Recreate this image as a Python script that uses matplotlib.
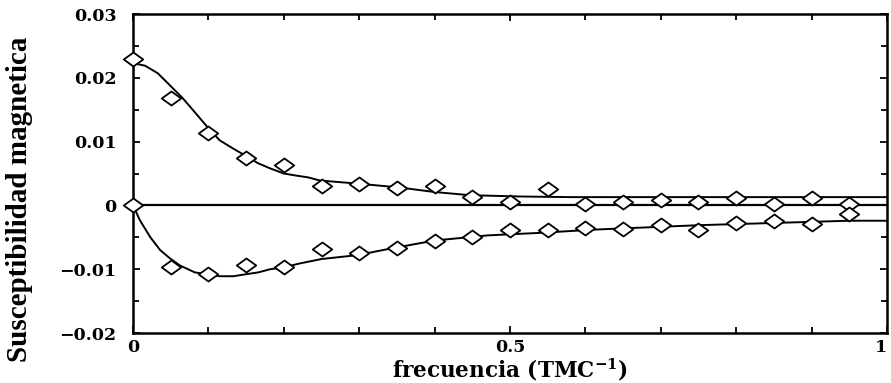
import numpy as np
import matplotlib
matplotlib.use("Agg")
import matplotlib.pyplot as plt
from matplotlib.path import Path
from matplotlib.ticker import MultipleLocator

plt.rcParams["font.family"] = ["DejaVu Serif"]
plt.rcParams["font.weight"] = "bold"
plt.rcParams["mathtext.fontset"] = "dejavuserif"
plt.rcParams["mathtext.default"] = "bf"

# measured points (diamonds)
freq_pts = [0.00, 0.05, 0.10, 0.15, 0.20, 0.25, 0.30, 0.35, 0.40, 0.45,
            0.50, 0.55, 0.60, 0.65, 0.70, 0.75, 0.80, 0.85, 0.90, 0.95]
upper_pts = [0.0230, 0.0169, 0.0113, 0.0074, 0.0064, 0.0031, 0.0034, 0.0028,
             0.0031, 0.0013, 0.0006, 0.0025, 0.0002, 0.0006, 0.0009, 0.0005,
             0.0011, 0.0002, 0.0011, 0.0003]
lower_pts = [0.0000, -0.0096, -0.0108, -0.0094, -0.0097, -0.0069, -0.0074,
             -0.0066, -0.0055, -0.0049, -0.0039, -0.0039, -0.0036, -0.0037,
             -0.0031, -0.0039, -0.0027, -0.0025, -0.0029, -0.0013]

# fitted curves
freq_up = [0.0, 0.016, 0.033, 0.05, 0.066, 0.082, 0.10, 0.115, 0.133, 0.149,
           0.166, 0.182, 0.20, 0.215, 0.232, 0.248, 0.30, 0.354, 0.40, 0.447,
           0.513, 0.58, 0.70, 0.85, 1.0]
upper_fit = [0.0223, 0.0219, 0.0207, 0.0187, 0.0168, 0.0146, 0.0121, 0.0102,
             0.0089, 0.0078, 0.0066, 0.0058, 0.0050, 0.0047, 0.0044, 0.0039,
             0.0034, 0.0028, 0.0021, 0.0016, 0.0014, 0.0013, 0.0013, 0.0013,
             0.0013]

freq_lo = [0.0, 0.009, 0.023, 0.036, 0.049, 0.062, 0.082, 0.10, 0.115, 0.133,
           0.149, 0.166, 0.182, 0.20, 0.221, 0.25, 0.297, 0.34, 0.40, 0.47,
           0.54, 0.61, 0.75, 0.95, 1.0]
lower_fit = [0.0, -0.0023, -0.0050, -0.0070, -0.0083, -0.0094, -0.0105,
             -0.0108, -0.0111, -0.0111, -0.0108, -0.0105, -0.0100, -0.0097,
             -0.0091, -0.0084, -0.0078, -0.0068, -0.0055, -0.0047, -0.0043,
             -0.0038, -0.0031, -0.0024, -0.0024]

# flattened diamond marker
diamond = Path([(-1, 0), (0, 0.72), (1, 0), (0, -0.72), (-1, 0)],
               [Path.MOVETO, Path.LINETO, Path.LINETO, Path.LINETO, Path.CLOSEPOLY])

fig = plt.figure(figsize=(8.91, 3.83), dpi=100)
ax = fig.add_axes([0.1493, 0.1305, 0.8462, 0.8329])

ax.axhline(0, color="black", lw=1.6)
ax.plot(freq_up, upper_fit, color="black", lw=1.4)
ax.plot(freq_lo, lower_fit, color="black", lw=1.4)
for ys in (upper_pts, lower_pts):
    ax.plot(freq_pts, ys, linestyle="none", marker=diamond, markersize=14,
            markerfacecolor="white", markeredgecolor="black", mew=1.3,
            clip_on=False, zorder=3)

ax.set_xlim(0, 1)
ax.set_ylim(-0.02, 0.03)
ax.set_xticks([0, 0.5, 1])
ax.set_xticklabels(["0", "0.5", "1"])
ax.xaxis.set_minor_locator(MultipleLocator(0.1))
ax.set_yticks([-0.02, -0.01, 0, 0.01, 0.02, 0.03])
ax.set_yticklabels(["\u22120.02", "\u22120.01", "0", "0.01", "0.02", "0.03"])
ax.yaxis.set_minor_locator(MultipleLocator(0.005))
ax.tick_params(which="both", direction="in", top=True, right=True,
               labelsize=12.5, width=1.3)
ax.tick_params(which="major", length=5)
ax.tick_params(which="minor", length=4)
ax.tick_params(axis="x", which="major", pad=4)
ax.tick_params(axis="y", which="major", pad=12)
for lab in ax.get_xticklabels() + ax.get_yticklabels():
    lab.set_fontweight("bold")
ax.get_xticklabels()[-1].set_ha("right")
for sp in ax.spines.values():
    sp.set_linewidth(1.8)

ax.set_xlabel(r"frecuencia (TMC$^{-1}$)", fontsize=15.5, fontweight="bold")
ax.xaxis.set_label_coords(0.5, -0.074)
ax.set_ylabel("Susceptibilidad magnetica", fontsize=21, fontweight="bold",
              family="Liberation Serif")
ax.yaxis.set_label_coords(-0.133, 0.42)

fig.savefig("out.png", dpi=100)
